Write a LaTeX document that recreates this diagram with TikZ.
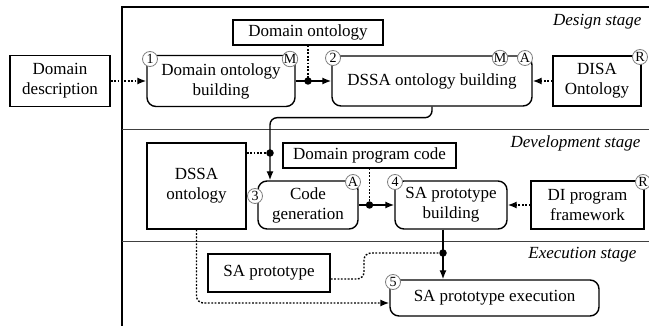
\documentclass[tikz,border=0pt]{standalone}
\usepackage{fontspec}
\setmainfont{Liberation Serif}
\usetikzlibrary{arrows.meta,calc}
\begin{document}
\begin{tikzpicture}[x=1pt,y=-1pt,
 txt/.style={font=\fontsize{17}{20}\selectfont, align=center},
 rbox/.style={txt, draw, line width=1.4pt, rounded corners=9pt, inner sep=0pt},
 sbox/.style={txt, draw, line width=1.4pt, inner sep=0pt},
 badge/.style={circle, draw=gray, fill=white, line width=0.8pt, inner sep=0pt, minimum size=15pt, font=\fontsize{14}{14}\selectfont},
 flow/.style={line width=1.4pt, -{Latex[length=9pt,width=7pt]}},
 dots/.style={line width=1.4pt, dash pattern=on 1.8pt off 1.6pt},
 dotsarrow/.style={dots, -{Latex[length=9pt,width=7pt]}},
 jdot/.style={circle, fill, inner sep=0pt, minimum size=7.5pt},
 stage/.style={font=\fontsize{17}{20}\selectfont\itshape, anchor=east},
 frameline/.style={line width=1.2pt},
 divider/.style={line width=1pt, black!75}
]
\useasboundingbox (0,0) rectangle (649,326);

% frame and stage dividers
\draw[frameline] (122,326) -- (122,7) -- (649,7);
\draw[divider] (122,130) -- (649,130);
\draw[divider] (122,242) -- (649,242);
\node[stage] (s1) at (645,22) {Design stage};
\node[stage] (s2) at (644,143) {Development stage};
\node[stage] (s3) at (640,255) {Execution stage};

% nodes
\node[sbox, minimum width=100pt, minimum height=51pt] (ddesc) at (60,81) {Domain\\description};
\node[sbox, minimum width=150pt, minimum height=25pt] (domont) at (308,32.5) {Domain ontology};
\node[rbox, minimum width=148pt, minimum height=51pt] (dob) at (221,81) {Domain ontology\\building};
\node[rbox, minimum width=200pt, minimum height=50pt] (dssab) at (432,81) {DSSA ontology building};
\node[sbox, minimum width=88pt, minimum height=50pt] (disa) at (597,81) {DISA\\Ontology};
\node[sbox, minimum width=99pt, minimum height=86pt] (dssao) at (196.5,186) {DSSA\\ontology};
\node[sbox, minimum width=173pt, minimum height=25pt] (dpc) at (369.5,155.5) {Domain program code};
\node[rbox, minimum width=100pt, minimum height=48pt] (cg) at (308,205) {Code\\generation};
\node[rbox, minimum width=112pt, minimum height=48pt] (sapb) at (451,205) {SA prototype\\building};
\node[sbox, minimum width=113pt, minimum height=48pt] (dipf) at (587.5,205) {DI program\\framework};
\node[sbox, minimum width=122pt, minimum height=38pt] (sap) at (269,273) {SA prototype};
\node[rbox, minimum width=209pt, minimum height=36pt] (sape) at (494.5,298) {SA prototype execution};

% junction coordinates
\coordinate (j1) at (domont.south |- dob.east);
\coordinate (j2) at (270,153);
\coordinate (j3) at (dpc.south |- cg.east);
\coordinate (j4) at (443,253);

% connectors
\draw[dotsarrow] (ddesc.east) -- (dob.west);
\draw[flow] (dob.east) -- (dssab.west);
\draw[dots] (domont.south) -- (j1);
\node[jdot] (d1) at (j1) {};
\draw[dotsarrow] (disa.west) -- (dssab.east);

\draw[flow, rounded corners=7pt] (dssab.south) -- ++(0,11) -| (j2 |- cg.north);
\draw[dots] (dssao.east |- j2) -- (j2);
\node[jdot] (d2) at (j2) {};

\draw[flow] (cg.east) -- (sapb.west);
\draw[dots] (dpc.south) -- (j3);
\node[jdot] (d3) at (j3) {};
\draw[dotsarrow] (dipf.west) -- (sapb.east);

\draw[flow] (j4 |- sapb.south) -- (j4 |- sape.north);
\draw[dots, rounded corners=7pt] ($(sap.east)+(0,6)$) -- (364,279) -- (364,253) -- (j4);
\node[jdot] (d4) at (j4) {};
\draw[dotsarrow, rounded corners=7pt] (dssao.south) -- (dssao.south |- 0,303) -- (sape.west |- 0,303);

% badges
\node[badge] (b1) at (150,59) {1};
\node[badge] (bm1) at (290,59) {M};
\node[badge] (b2) at (333,58) {2};
\node[badge] (bm2) at (500,58) {M};
\node[badge] (ba2) at (525,58) {A};
\node[badge] (br1) at (640,57) {R};
\node[badge] (b3) at (255,196) {3};
\node[badge] (ba3) at (353,182) {A};
\node[badge] (b4) at (395,182) {4};
\node[badge] (br2) at (643,182) {R};
\node[badge] (b5) at (393,282) {5};
\end{tikzpicture}
\end{document}
